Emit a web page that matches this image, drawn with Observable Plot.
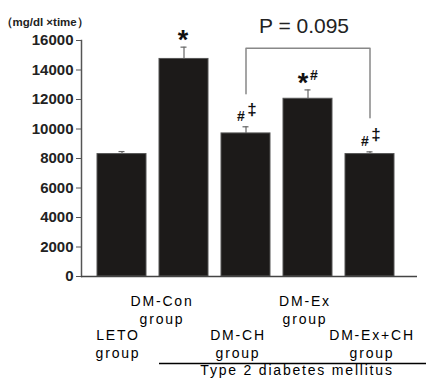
<!DOCTYPE html>
<html><head><meta charset="utf-8">
<script src="https://cdn.jsdelivr.net/npm/d3@7"></script>
<script src="https://cdn.jsdelivr.net/npm/@observablehq/plot@0.6"></script>
<style>body{margin:0;background:#fff} svg{display:block} .catlabel text{letter-spacing:1.8px}</style>
</head><body><div id="chart"></div>
<script>
// ---- data ----
const groups = ["LETO\ngroup", "DM-Con\ngroup", "DM-CH\ngroup", "DM-Ex\ngroup", "DM-Ex+CH\ngroup"];
const means = [8300, 14750, 9700, 12050, 8300];
const errors = [170, 800, 450, 600, 150];
const mainMarks = ["", "*", "#", "*", "#"];
const superMarks = ["", "", "‡", "#", "‡"];
const yTicks = [0, 2000, 4000, 6000, 8000, 10000, 12000, 14000, 16000];
const yLabel = "（mg/dl ×time）";
const pLabel = "P = 0.095";
const bracketTop = 15470, bracketLeftEnd = 12390, bracketRightEnd = 10770;
const diseaseLabel = "Type 2 diabetes mellitus";
const diseaseFrom = "DM-Con\ngroup", diseaseTo = "DM-Ex+CH\ngroup";

// ---- layout tweaks (not data) ----
const labelShift = [-4, -22, -8, -3, 2];

const rows = groups.map((g, i) => ({g, mean: means[i], err: errors[i], top: means[i] + errors[i], main: mainMarks[i], sup: superMarks[i], i}));
const bracket = [
  {x: groups[2], y: bracketLeftEnd}, {x: groups[2], y: bracketTop},
  {x: groups[4], y: bracketTop}, {x: groups[4], y: bracketRightEnd}
];

const annot = rows.flatMap(r => {
  const out = [];
  if (r.main === "*") out.push(Plot.text([r], {x: "g", y: "top", text: d => d.main, fontSize: 27, fontWeight: "bold", fill: "#111", dx: r.sup ? -5 : -1, dy: -7}));
  if (r.main === "#") out.push(Plot.text([r], {x: "g", y: "top", text: d => d.main, fontSize: 14, fontWeight: "bold", fill: "#111", dx: -5, dy: -10}));
  if (r.sup === "‡") out.push(Plot.text([r], {x: "g", y: "top", text: d => d.sup, fontSize: 17, fontWeight: "bold", fill: "#111", dx: 6, dy: -17}));
  if (r.sup === "#") out.push(Plot.text([r], {x: "g", y: "top", text: d => d.sup, fontSize: 14, fontWeight: "bold", fill: "#111", dx: 6, dy: -14}));
  return out;
});

const catLabels = rows.map((r, i) => Plot.text([r], {
  x: "g", y: () => 0, text: "g", fontSize: 14, fill: "#000",
  lineAnchor: "top", lineHeight: 1.29, dx: labelShift[i], dy: i % 2 ? 17 : 51,
  className: "catlabel"
}));

const chart = Plot.plot({
  width: 427, height: 385,
  marginLeft: 81, marginRight: 10, marginTop: 40, marginBottom: 109,
  style: {fontFamily: "'Liberation Sans', Arial, sans-serif", background: "#fff"},
  x: {domain: groups, paddingInner: 0.216, paddingOuter: 0.24, insetRight: 7, axis: null},
  y: {domain: [0, 16000], axis: null},
  marks: [
    Plot.barY(rows, {x: "g", y: "mean", fill: "#1c1a19", stroke: "#555", strokeWidth: 1}),
    Plot.ruleX(rows, {x: "g", y1: "mean", y2: "top", stroke: "#666", strokeWidth: 1.2}),
    Plot.tickY(rows, {x: "g", y: "top", stroke: "#666", strokeWidth: 1.2, insetLeft: 21.5, insetRight: 21.5}),
    Plot.axisY({ticks: yTicks, tickFormat: d => String(d), tickSize: 5, tickPadding: 3, fontSize: 15, fontWeight: "bold", fill: "#222", stroke: "#555", label: null}),
    Plot.frame({anchor: "left", stroke: "#555", strokeWidth: 1.5}),
    Plot.ruleY([0], {stroke: "#444", strokeWidth: 1.5}),
    Plot.line(bracket, {x: "x", y: "y", stroke: "#888", strokeWidth: 1.5}),
    Plot.text([pLabel], {x: () => groups[3], y: () => bracketTop, text: d => d, fontSize: 21, fill: "#222", lineAnchor: "top", dx: -4, dy: -30}),
    Plot.text([yLabel], {frameAnchor: "top-left", text: d => d, textAnchor: "start", fontSize: 11.5, fontWeight: "bold", fill: "#222", dx: -81, dy: -23}),
    ...annot,
    ...catLabels,
    Plot.ruleY([0], {x1: () => diseaseFrom, x2: () => diseaseTo, dy: 87, insetRight: -32, stroke: "#000", strokeWidth: 1.5}),
    Plot.text([diseaseLabel], {x: () => groups[3], y: () => 0, text: d => d, fontSize: 14, fill: "#000", lineAnchor: "top", dx: -11, dy: 89, className: "catlabel"})
  ]
});
document.getElementById("chart").appendChild(chart);
</script>
</body></html>
